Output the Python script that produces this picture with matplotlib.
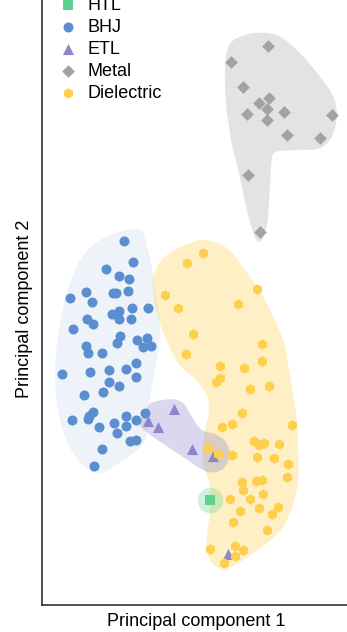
import numpy as np
import matplotlib
matplotlib.use("Agg")
import matplotlib.pyplot as plt

plt.rcParams['font.family'] = ['Liberation Sans', 'DejaVu Sans']

# ---- PCA scores per material class ----
htl_pc1 = [168.0]
htl_pc2 = [105.0]

bhj_pc1 = [82.3, 91, 63.7, 77, 87, 43.7, 71.3, 74, 86.3, 28.3, 50.3, 106.3, 90.3, 70.3,
           76.7, 76.7, 89, 45.3, 51.3, 31, 78, 74.7, 94.7, 105.3, 101, 109.3, 43.7, 46.3,
           60, 94.3, 19.7, 47.7, 67, 84.3, 94, 67, 77.3, 42, 61, 50.7, 47, 45.7, 30, 57.3,
           72.3, 83.7, 84, 94.3, 103, 75, 88.3, 94.3, 60, 51.7]
bhj_pc2 = [364.3, 343, 336.3, 329, 325.7, 313, 312.3, 312.3, 313.7, 306.7, 303, 297, 296.7,
           291, 294.3, 286.3, 286.3, 286.3, 280.7, 276, 269, 262.3, 265, 267, 257.7, 259,
           259, 252.3, 251.7, 242.3, 231, 232.7, 235, 235.7, 227.7, 223.3, 219, 209.7,
           213.3, 193.3, 188.7, 185.7, 184.7, 178.3, 182, 189, 179, 184.7, 192.3, 172.3,
           164.3, 165.3, 155.7, 139]

etl_pc1 = [106.3, 115.7, 132.3, 149.7, 170.7, 185.7]
etl_pc2 = [184, 177.7, 196, 156, 149.3, 51.3]

metal_pc1 = [225.7, 189.3, 200.7, 227.3, 216.7, 224.7, 205.3, 241.7, 289.7, 225, 245.3,
             278.3, 205.7, 217.7]
metal_pc2 = [558.7, 543, 518, 506.7, 502, 496.3, 491.3, 493, 490.3, 485, 470, 467, 430,
             373.3]

diel_pc1 = [161.3, 145, 123.3, 135.7, 215.3, 196, 150.7, 144.3, 220, 220, 178, 201.7, 178,
            174, 207.7, 226.7, 199.7, 180.3, 190, 250.3, 211.7, 216.7, 222.3, 237.3, 166,
            176, 189.7, 215, 231.7, 246, 245.3, 199.7, 214, 219.7, 200.7, 220.7, 187.7,
            207.7, 197.7, 217, 236.3, 230.3, 191, 224.7, 168.3, 192.7, 201, 192.7, 182.3]
diel_pc2 = [352.3, 342.3, 310, 297.3, 316, 300.7, 270.7, 251.3, 260.7, 244.3, 238.7, 237.3,
            227.3, 223.3, 216, 219.3, 192.3, 177.7, 181, 179.7, 164.3, 159.7, 162, 161,
            157, 151, 149.7, 148, 147.3, 141.3, 127.7, 123.3, 123.7, 125.3, 115.3, 111.3,
            106, 106, 94, 97.3, 98.3, 90.7, 82.7, 74.7, 55.7, 58.7, 55.3, 49, 41.7]

# ---- cluster envelopes (control points of closed smooth outlines) ----
bhj_env_pc1 = [98, 78, 58, 38, 24.7, 16.3, 13, 18, 31.3, 54.7, 81.3, 101.3, 106, 108, 113,
               118, 113, 106]
bhj_env_pc2 = [375, 373.3, 365, 345, 311.7, 271.7, 228.3, 185, 151.7, 131.7, 145, 161.7,
               185, 208.3, 235, 275, 318.3, 355]

etl_env_pc1 = [98, 106.3, 113, 129.7, 141.3, 149.7, 159.7, 173, 184, 187.5, 182, 169.7,
               158, 143, 123, 106.3]
etl_env_pc2 = [181.7, 199, 203.3, 205.7, 201.7, 188.3, 175, 171, 163, 150, 137, 132.5,
               136.7, 146.7, 160, 171.7]

metal_env_pc1 = [218, 198, 186.3, 183, 184, 189.7, 196.3, 207.3, 216.3, 224.7, 228, 229.7,
                 234.7, 258, 278, 289.7, 294.7, 291.3, 278, 258, 238]
metal_env_pc2 = [572.3, 568.3, 558.3, 535, 501.7, 461.7, 435, 385, 363.3, 378.3, 418.3, 445,
                 453.3, 455, 456.7, 468.3, 488.3, 508.3, 528.3, 551.7, 568.3]

diel_env_pc1 = [163, 143, 123, 111.3, 113, 123, 136.3, 154, 164.7, 167, 164, 161.3, 160, 163,
                168, 168, 164.7, 166.3, 174.7, 184.7, 201.3, 224.7, 241.3, 251.3, 256.3,
                256.3, 254.7, 251.3, 247, 241, 223, 203, 184.7]
diel_env_pc2 = [365, 360, 348.3, 328.3, 298.3, 268.3, 241.7, 225, 210, 195, 180, 165, 150,
                135, 118.3, 91.7, 68.3, 48.3, 38.3, 36.7, 45, 61.7, 78.3, 101.7, 125, 151.7,
                185, 208.3, 235, 265, 305, 335, 357]

colors = {
    "HTL": "#5fd08f",
    "BHJ": "#5b8ecf",
    "ETL": "#8d86cc",
    "Metal": "#a3a3a3",
    "Dielectric": "#fdcf4c",
}


def smooth_closed(xs, ys, n=40):
    """Closed Catmull-Rom spline through the control points."""
    p = np.column_stack([xs, ys]).astype(float)
    m = len(p)
    out = []
    t = np.linspace(0, 1, n, endpoint=False)[:, None]
    for i in range(m):
        p0, p1, p2, p3 = p[i - 1], p[i], p[(i + 1) % m], p[(i + 2) % m]
        seg = 0.5 * ((2 * p1) + (-p0 + p2) * t + (2 * p0 - 5 * p1 + 4 * p2 - p3) * t ** 2
                     + (-p0 + 3 * p1 - 3 * p2 + p3) * t ** 3)
        out.append(seg)
    out = np.vstack(out)
    return out[:, 0], out[:, 1]


W, H = 347, 632
fig = plt.figure(figsize=(W / 100, H / 100), dpi=100)
ax = fig.add_axes([42 / W, 27 / H, 308 / W, 605 / H])
ax.set_xlim(0, 308)
ax.set_ylim(0, 605)

# envelopes
for env_x, env_y, key, a in [(bhj_env_pc1, bhj_env_pc2, "BHJ", 0.10),
                             (diel_env_pc1, diel_env_pc2, "Dielectric", 0.33),
                             (metal_env_pc1, metal_env_pc2, "Metal", 0.30),
                             (etl_env_pc1, etl_env_pc2, "ETL", 0.32)]:
    sx, sy = smooth_closed(env_x, env_y)
    ax.fill(sx, sy, color=colors[key], alpha=a, lw=0, zorder=1)

# HTL halo
ax.scatter(htl_pc1, htl_pc2, s=340, color=colors["HTL"], alpha=0.3, lw=0, zorder=1)

# points
h_htl = ax.scatter(htl_pc1, htl_pc2, marker="s", s=44, color=colors["HTL"], lw=0, zorder=3,
                   label="HTL")
h_bhj = ax.scatter(bhj_pc1, bhj_pc2, marker="o", s=52, color=colors["BHJ"], lw=0, zorder=3,
                   label="BHJ")
h_etl = ax.scatter(etl_pc1, etl_pc2, marker="^", s=64, color=colors["ETL"], lw=0, zorder=3,
                   label="ETL")
h_met = ax.scatter(metal_pc1, metal_pc2, marker="D", s=42, color=colors["Metal"], lw=0,
                   zorder=3, label="Metal")
h_die = ax.scatter(diel_pc1, diel_pc2, marker="h", s=56, color=colors["Dielectric"], lw=0,
                   zorder=3, label="Dielectric")

for side in ("top", "right"):
    ax.spines[side].set_visible(False)
for side in ("left", "bottom"):
    ax.spines[side].set_color("#333333")
    ax.spines[side].set_linewidth(1.2)
ax.set_xticks([])
ax.set_yticks([])

ax.set_xlabel("Principal component 1", fontsize=13)
ax.set_ylabel("Principal component 2", fontsize=13)
ax.xaxis.set_label_coords(0.5, -0.014)
ax.yaxis.set_label_coords(-0.03, 0.49)

fig.legend(handles=[h_htl, h_bhj, h_etl, h_met, h_die], loc="upper left",
           bbox_to_anchor=(59 / W, (H + 3) / H), frameon=False, fontsize=13,
           handlelength=1.0, handletextpad=0.6, labelspacing=0.27, borderpad=0,
           borderaxespad=0)

fig.savefig("out.png", dpi=100)
